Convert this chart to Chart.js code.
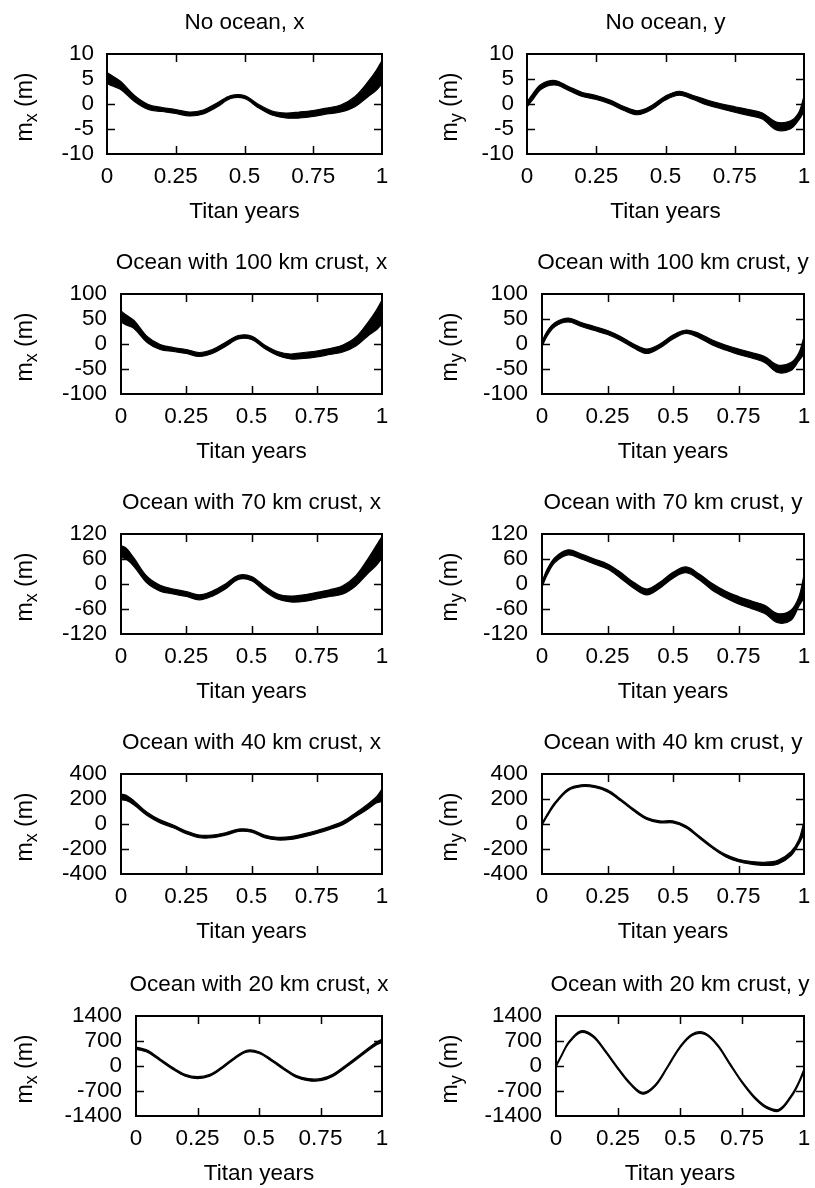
<!DOCTYPE html>
<html>
<head>
<meta charset="utf-8">
<script src="https://cdn.jsdelivr.net/npm/chart.js"></script>
<style>
  html, body { margin: 0; padding: 0; background: #fff; overflow: hidden; }
  #page { position: relative; width: 815px; height: 1188px; overflow: hidden; background: #fff; }
  #page canvas { position: absolute; }
</style>
</head>
<body>
<div id="page"></div>
<script>
// time axis (Titan years) shared by all panels
const years = [0, 0.02, 0.05, 0.1, 0.15, 0.2, 0.25, 0.3, 0.35, 0.4, 0.45, 0.5,
               0.55, 0.6, 0.65, 0.7, 0.75, 0.8, 0.85, 0.9, 0.95, 0.98, 1];
const xTickLabels = ['0', '0.25', '0.5', '0.75', '1'];

// y axis range of each row
const yTickMax = [10, 100, 120, 400, 1400];
const yTickStep = [5, 50, 60, 200, 700];

const titles = [
  'No ocean, x', 'No ocean, y',
  'Ocean with 100 km crust, x', 'Ocean with 100 km crust, y',
  'Ocean with 70 km crust, x', 'Ocean with 70 km crust, y',
  'Ocean with 40 km crust, x', 'Ocean with 40 km crust, y',
  'Ocean with 20 km crust, x', 'Ocean with 20 km crust, y'
];

// upper and lower edge of the (noisy) band of each curve, metres
const noOceanXHi = [6.3, 5.6, 4.5, 1.7, -0.1, -0.7, -1.1, -1.6, -1.2, 0.2, 1.7, 1.7, -0.05, -1.4, -1.8, -1.6, -1.3, -0.8, -0.2, 1.4, 4.5, 6.8, 8.7];
const noOceanXLo = [4.1, 3.6, 2.9, 0.5, -1.1, -1.5, -1.9, -2.4, -2.0, -0.6, 1.1, 1.1, -0.75, -2.2, -2.8, -2.8, -2.5, -2.0, -1.6, -0.6, 1.5, 2.8, 4.1];
const noOceanYHi = [0.4, 2.0, 3.9, 4.7, 3.5, 2.3, 1.7, 0.8, -0.5, -1.35, -0.3, 1.6, 2.55, 1.7, 0.8, 0.05, -0.55, -1.1, -1.8, -3.6, -3.4, -1.8, 1.5];
const noOceanYLo = [-0.6, 0.8, 2.9, 3.8, 2.7, 1.5, 0.9, 0.0, -1.3, -2.15, -1.1, 0.8, 1.75, 0.9, -0.2, -0.95, -1.65, -2.3, -3.0, -5.2, -5.0, -3.3, -1.5];

const ocean100XHi = [66, 58, 47, 15, -1, -7, -11, -17, -11, 3, 17, 16, -2, -15, -20, -17, -14, -9, -2, 14, 46, 69, 88];
const ocean100XLo = [44, 38, 31, 3, -11, -15, -19, -25, -19, -5, 10, 9, -9, -23, -30, -29, -26, -21, -16, -4, 18, 29, 40];
const ocean100YHi = [5, 26, 43, 52, 43, 35, 27, 15, 0, -10, 0, 18, 28, 21, 8, -2, -10, -17, -25, -42, -37, -18, 14];
const ocean100YLo = [-5, 16, 35, 44, 35, 27, 19, 7, -8, -19, -8, 10, 21, 12, -2, -12, -21, -28, -37, -57, -53, -34, -20];

const ocean70XHi = [92, 86, 62, 18, -3, -12, -18, -26, -17, 0, 21, 18, -5, -24, -29, -26, -20, -14, -4, 20, 64, 94, 114];
const ocean70XLo = [64, 60, 42, 2, -17, -24, -30, -38, -29, -12, 11, 8, -17, -36, -43, -42, -36, -30, -24, -4, 28, 46, 62];
const ocean70YHi = [5, 36, 64, 82, 72, 60, 48, 28, 4, -12, 4, 28, 41, 24, 1, -17, -30, -41, -51, -71, -63, -32, 21];
const ocean70YLo = [-7, 22, 52, 70, 60, 48, 36, 14, -10, -26, -10, 14, 27, 10, -15, -33, -48, -59, -71, -93, -87, -54, -33];

const ocean40XHi = [240, 230, 185, 94, 33, -8, -56, -88, -88, -70, -40, -46, -89, -106, -101, -79, -52, -20, 21, 90, 167, 220, 280];
const ocean40XLo = [195, 188, 152, 68, 9, -30, -78, -110, -110, -90, -60, -66, -109, -128, -123, -103, -76, -44, -5, 60, 127, 170, 180];
const ocean40YHi = [5, 80, 174, 282, 314, 308, 273, 201, 120, 52, 25, 25, -15, -96, -177, -243, -282, -300, -306, -291, -222, -126, 20];
const ocean40YLo = [-12, 62, 158, 266, 298, 292, 257, 185, 104, 36, 9, 9, -31, -112, -193, -261, -302, -322, -332, -321, -254, -162, -80];

const ocean20XHi = [530, 500, 430, 190, -45, -235, -300, -235, -18, 240, 440, 400, 191, -46, -262, -355, -355, -232, 6, 265, 535, 680, 750];
const ocean20XLo = [470, 440, 375, 140, -95, -285, -352, -285, -68, 190, 390, 350, 141, -96, -314, -411, -413, -290, -54, 201, 461, 600, 660];
const ocean20YHi = [20, 286, 666, 985, 855, 428, -46, -473, -735, -521, 1, 552, 903, 931, 618, 96, -426, -850, -1135, -1205, -800, -420, -80];
const ocean20YLo = [-30, 236, 616, 935, 805, 378, -96, -523, -790, -571, -49, 502, 853, 881, 568, 46, -476, -905, -1190, -1260, -860, -485, -160];

const bandHi = [noOceanXHi, noOceanYHi, ocean100XHi, ocean100YHi, ocean70XHi, ocean70YHi, ocean40XHi, ocean40YHi, ocean20XHi, ocean20YHi];
const bandLo = [noOceanXLo, noOceanYLo, ocean100XLo, ocean100YLo, ocean70XLo, ocean70YLo, ocean40XLo, ocean40YLo, ocean20XLo, ocean20YLo];

// page layout (pixels)
const rowTop = [0, 240, 480, 720, 962];
const colLeft = [0, 410];
const plotLeft = [[107, 121, 121, 121, 136], [527, 542, 542, 542, 556]];
const plotRight = [382, 804];
const yLabelBase = [32, 47];
const yTickGap = [13, 14, 14, 14, 14];
const cellH = 240;
const plotBottom = 154;

Chart.defaults.font.family = "'Liberation Sans', Arial, sans-serif";
Chart.defaults.font.size = 22.5;
Chart.defaults.color = '#000';

// inward tick marks on all four sides plus the box
const framePlugin = {
  id: 'frame',
  afterDraw(chart) {
    const ctx = chart.ctx;
    const a = chart.chartArea;
    const sx = chart.scales.x, sy = chart.scales.y;
    ctx.save();
    ctx.strokeStyle = '#000';
    ctx.lineWidth = 1.5;
    ctx.beginPath();
    sx.ticks.forEach(t => {
      if (t.value <= sx.min || t.value >= sx.max) return;
      const p = Math.round(sx.getPixelForValue(t.value)) + 0.5;
      ctx.moveTo(p, a.bottom); ctx.lineTo(p, a.bottom - 8);
      ctx.moveTo(p, a.top); ctx.lineTo(p, a.top + 8);
    });
    sy.ticks.forEach(t => {
      if (t.value <= sy.min || t.value >= sy.max) return;
      const p = Math.round(sy.getPixelForValue(t.value)) + 0.5;
      ctx.moveTo(a.left, p); ctx.lineTo(a.left + 8, p);
      ctx.moveTo(a.right, p); ctx.lineTo(a.right - 8, p);
    });
    ctx.stroke();
    ctx.lineWidth = 2;
    ctx.strokeRect(a.left, a.top, a.right - a.left, a.bottom - a.top);
    ctx.restore();
  }
};

// rotated y label with a subscript: m_x (m)
const yLabelPlugin = {
  id: 'ylabel',
  afterDraw(chart, args, opts) {
    const ctx = chart.ctx;
    const a = chart.chartArea;
    const big = "23px 'Liberation Sans', Arial, sans-serif";
    const small = "18px 'Liberation Sans', Arial, sans-serif";
    ctx.save();
    ctx.translate(opts.x, (a.top + a.bottom) / 2 + 3);
    ctx.rotate(-Math.PI / 2);
    ctx.fillStyle = '#000';
    ctx.textBaseline = 'alphabetic';
    ctx.textAlign = 'left';
    ctx.font = big;
    const w1 = ctx.measureText('m').width;
    const w3 = ctx.measureText(' (m)').width;
    ctx.font = small;
    const w2 = ctx.measureText(opts.sub).width;
    let x = -(w1 + w2 + w3) / 2;
    ctx.font = big;
    ctx.fillText('m', x, 0);
    x += w1;
    ctx.font = small;
    ctx.fillText(opts.sub, x, 5);
    x += w2;
    ctx.font = big;
    ctx.fillText(' (m)', x, 0);
    ctx.restore();
  }
};

const page = document.getElementById('page');

for (let i = 0; i < titles.length; i++) {
  const r = Math.floor(i / 2), c = i % 2;
  const left0 = colLeft[c];
  const yW = plotLeft[c][r] - left0;
  const W = plotRight[c] - left0 + yW;

  const canvas = document.createElement('canvas');
  canvas.width = W;
  canvas.height = cellH;
  canvas.style.left = left0 + 'px';
  canvas.style.top = rowTop[r] + 'px';
  canvas.style.width = W + 'px';
  canvas.style.height = cellH + 'px';
  page.appendChild(canvas);

  const hiPts = years.map((t, k) => ({x: t, y: bandHi[i][k]}));
  const loPts = years.map((t, k) => ({x: t, y: bandLo[i][k]}));

  new Chart(canvas, {
    type: 'line',
    data: {
      datasets: [
        {data: hiPts, borderColor: '#000', borderWidth: 1.2, pointRadius: 0, tension: 0.35, fill: false},
        {data: loPts, borderColor: '#000', borderWidth: 1.2, pointRadius: 0, tension: 0.35, fill: '-1', backgroundColor: '#000'}
      ]
    },
    options: {
      responsive: false,
      animation: false,
      devicePixelRatio: 1,
      layout: {padding: 0},
      events: [],
      plugins: {
        legend: {display: false},
        tooltip: {enabled: false},
        title: {
          display: true,
          text: titles[i],
          fullSize: true,
          font: {size: 22.5, weight: 'normal'},
          color: '#000',
          padding: {top: 9.5, bottom: 17.5}
        },
        ylabel: {x: yLabelBase[c], sub: c === 0 ? 'x' : 'y'}
      },
      scales: {
        x: {
          type: 'linear',
          position: 'bottom',
          min: 0, max: 1,
          grid: {display: false, drawTicks: false},
          border: {display: false},
          ticks: {
            stepSize: 0.25,
            padding: 9,
            maxRotation: 0,
            autoSkip: false,
            color: '#000',
            callback: (v, idx) => xTickLabels[idx]
          },
          title: {display: true, text: 'Titan years', color: '#000', padding: {top: 0, bottom: 15}},
          afterFit: s => { s.height = cellH - plotBottom; }
        },
        y: {
          type: 'linear',
          position: 'left',
          min: -yTickMax[r], max: yTickMax[r],
          grid: {display: false, drawTicks: false},
          border: {display: false},
          ticks: {stepSize: yTickStep[r], padding: yTickGap[r], autoSkip: false, color: '#000', callback: v => String(v)},
          afterFit: s => { s.width = yW; }
        },
        y2: {
          type: 'linear',
          position: 'right',
          display: true,
          min: -yTickMax[r], max: yTickMax[r],
          grid: {display: false, drawTicks: false},
          border: {display: false},
          ticks: {display: false},
          afterFit: s => { s.width = yW; }
        }
      }
    },
    plugins: [framePlugin, yLabelPlugin]
  });
}
</script>
</body>
</html>
